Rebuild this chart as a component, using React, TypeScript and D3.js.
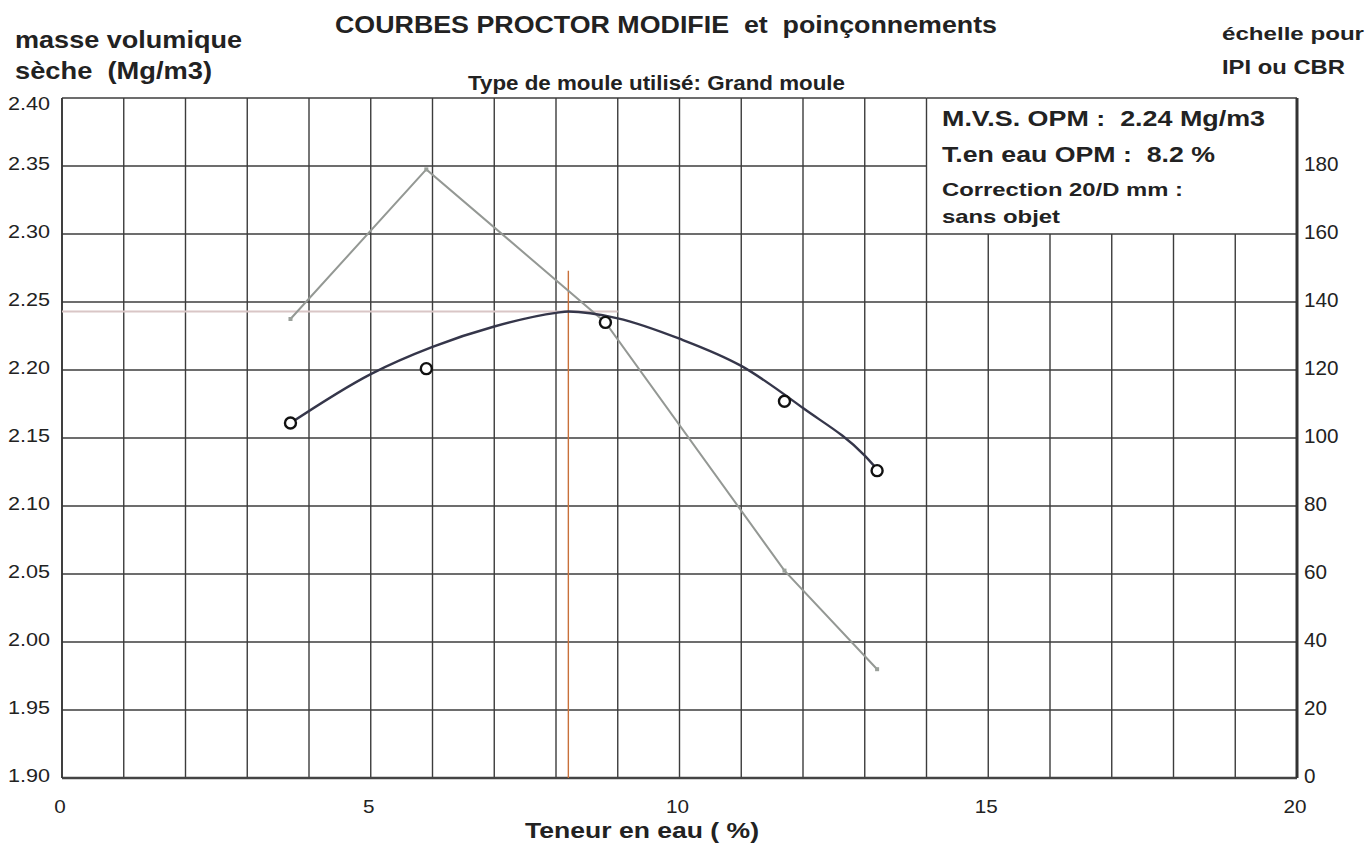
import * as d3 from 'd3'

// moisture content (%) of the 5 specimens
const waterContent = [3.7, 5.9, 8.8, 11.7, 13.2]
// dry density (Mg/m3) measured on each specimen
const dryDensity = [2.161, 2.201, 2.235, 2.177, 2.126]
// IPI / CBR index (right scale)
const cbrIndex = [135, 179, 134, 61, 32]
// fitted Proctor curve
const fitWater = [3.7, 5, 6, 7, 8, 8.2, 9, 10, 11, 12, 13, 13.2]
const fitDensity = [2.161, 2.197, 2.217, 2.232, 2.242, 2.243, 2.238, 2.223, 2.203, 2.172, 2.137, 2.127]

const optimumWater = 8.2
const optimumDensity = 2.243

const xTicks = [0, 5, 10, 15, 20]
const yTicks = [1.9, 1.95, 2.0, 2.05, 2.1, 2.15, 2.2, 2.25, 2.3, 2.35, 2.4]
const rightTicks = [0, 20, 40, 60, 80, 100, 120, 140, 160, 180]

const W = 1367
const H = 852
const margin = { top: 98, right: 70, bottom: 74, left: 62 }
const font = '"Liberation Sans", Arial, sans-serif'

// the scanned sheet is a bit wider than Arial, so texts get a fixed length
function Label(props: { x: number; y: number; len?: number; size: number; anchor?: string; bold?: boolean; children: string }) {
  return (
    <text
      x={props.x}
      y={props.y}
      fontSize={props.size}
      textAnchor={props.anchor ?? 'start'}
      fontWeight={props.bold ? 'bold' : 'normal'}
      textLength={props.len}
      lengthAdjust={props.len ? 'spacingAndGlyphs' : undefined}
      style={{ whiteSpace: 'pre' }}
    >
      {props.children}
    </text>
  )
}

export default function App() {
  const x = d3.scaleLinear().domain([0, 20]).range([margin.left, W - margin.right])
  const y = d3.scaleLinear().domain([1.9, 2.4]).range([H - margin.bottom, margin.top])
  const yR = d3.scaleLinear().domain([0, 200]).range([H - margin.bottom, margin.top])

  const fitLine = d3.line<number>()
    .x((_, i) => x(fitWater[i]))
    .y(d => y(d))
    .curve(d3.curveMonotoneX)

  const cbrLine = d3.line<number>()
    .x((_, i) => x(waterContent[i]))
    .y(d => yR(d))

  const gridX = d3.range(0, 21, 1)
  const gridY = d3.range(0, 11).map(i => 1.9 + i * 0.05)

  // text box in the upper right corner hides the grid
  const boxX0 = x(14)
  const boxY1 = y(2.3)

  return (
    <svg width={W} height={H} style={{ position: 'absolute', left: 0, top: 0, background: '#fff' }} fontFamily={font}>
      {/* grid */}
      <g stroke="#3c3c3c" strokeWidth={1.4}>
        {gridX.map(v => (
          <line key={'gx' + v} x1={x(v)} x2={x(v)} y1={v > 14 && v < 20 ? boxY1 : y(2.4)} y2={y(1.9)} />
        ))}
        {gridY.map(v => (
          <line key={'gy' + v} x1={x(0)} x2={v > 2.3 + 1e-6 ? boxX0 : x(20)} y1={y(v)} y2={y(v)} />
        ))}
      </g>
      <line x1={x(14)} x2={x(20)} y1={y(2.4)} y2={y(2.4)} stroke="#3c3c3c" strokeWidth={1.4} />
      {/* axes */}
      <line x1={x(0)} x2={x(20)} y1={y(1.9)} y2={y(1.9)} stroke="#444" strokeWidth={2.5} />
      <line x1={x(20)} x2={x(20)} y1={y(2.4)} y2={y(1.9)} stroke="#333" strokeWidth={3} />
      <line x1={x(0)} x2={x(0)} y1={y(2.4)} y2={y(1.9)} stroke="#333" strokeWidth={1.6} />

      {/* optimum reference lines */}
      <line x1={x(0)} x2={x(9)} y1={y(optimumDensity)} y2={y(optimumDensity)} stroke="#d9c6c6" strokeWidth={2} />
      <line x1={x(optimumWater)} x2={x(optimumWater)} y1={y(2.273)} y2={y(1.9)} stroke="#c8703a" strokeWidth={1.4} />

      {/* IPI / CBR */}
      <path d={cbrLine(cbrIndex) ?? ''} fill="none" stroke="#949894" strokeWidth={2} />
      {cbrIndex.map((v, i) => (
        <rect key={'c' + i} x={x(waterContent[i]) - 2} y={yR(v) - 2} width={4} height={4} fill="#9aa09a" />
      ))}

      {/* Proctor fit */}
      <path d={fitLine(fitDensity) ?? ''} fill="none" stroke="#35364a" strokeWidth={2.4} />
      {dryDensity.map((v, i) => (
        <circle key={'p' + i} cx={x(waterContent[i])} cy={y(v)} r={5.5} fill="#fff" stroke="#111" strokeWidth={2.4} />
      ))}

      {/* tick labels */}
      <g fill="#222">
        {yTicks.map(v => (
          <Label key={'yl' + v} x={50} y={v === 2.4 ? 110 : y(v) + 4} len={42} size={19} anchor="end">{v.toFixed(2)}</Label>
        ))}
        {rightTicks.map(v => (
          <Label key={'rl' + v} x={x(20) + 7} y={yR(v) + 5} len={String(v).length * 11.5} size={19.5}>{String(v)}</Label>
        ))}
        {xTicks.map(v => (
          <Label key={'xl' + v} x={x(v) - 2} y={813} len={String(v).length * 11.5} size={19} anchor="middle">{String(v)}</Label>
        ))}
      </g>

      {/* titles */}
      <g fill="#222">
        <Label x={335} y={33} len={662} size={23} bold>COURBES PROCTOR MODIFIE  et  poinçonnements</Label>
        <Label x={468} y={90} len={377} size={19.5} bold>Type de moule utilisé: Grand moule</Label>
        <Label x={15} y={48} len={227} size={24} bold>masse volumique</Label>
        <Label x={15} y={79} len={197} size={24} bold>sèche  (Mg/m3)</Label>
        <Label x={1222} y={40} len={142} size={19} bold>échelle pour</Label>
        <Label x={1222} y={74} len={123} size={19.5} bold>IPI ou CBR</Label>
        <Label x={525} y={838} len={234} size={22} bold>Teneur en eau ( %)</Label>
        <Label x={942} y={126} len={323} size={21.5} bold>M.V.S. OPM :  2.24 Mg/m3</Label>
        <Label x={942} y={162} len={273} size={22} bold>T.en eau OPM :  8.2 %</Label>
        <Label x={942} y={196} len={241} size={18.5} bold>Correction 20/D mm :</Label>
        <Label x={942} y={223} len={118} size={18.5} bold>sans objet</Label>
      </g>
    </svg>
  )
}
